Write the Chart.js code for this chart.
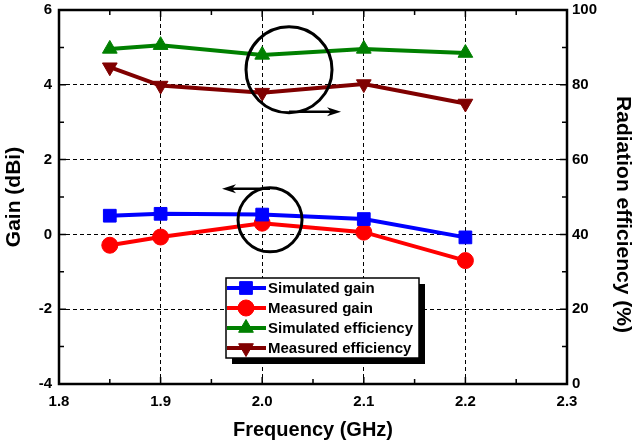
<!DOCTYPE html>
<html lang="en">
<head>
<meta charset="UTF-8">
<title>Gain and radiation efficiency</title>
<script src="https://cdn.jsdelivr.net/npm/chart.js"></script>
<style>
    html, body { margin: 0; padding: 0; background: #fff; }
    #wrap { width: 633px; height: 447px; }
</style>
</head>
<body>
<div id="wrap"><canvas id="chart" width="633" height="447"></canvas></div>
<script>
    // data
    const freqs = [1.85, 1.9, 2.0, 2.1, 2.2];
    const simGain = [0.50, 0.55, 0.53, 0.41, -0.08];
    const measGain = [-0.29, -0.07, 0.30, 0.06, -0.70];
    const simEff = [89.6, 90.6, 88.0, 89.6, 88.5];
    const measEff = [84.7, 79.8, 77.9, 80.2, 75.0];
    const seriesNames = ['Simulated gain', 'Measured gain', 'Simulated efficiency', 'Measured efficiency'];

    const FONT = '"Liberation Sans", Arial, sans-serif';
    const tickFont = { family: FONT, size: 15, weight: 'bold' };
    const titleFont = { family: FONT, size: 20, weight: 'bold', lineHeight: 1 };
    const sideTitleFont = { family: FONT, size: 21, weight: 'bold', lineHeight: 1 };

    function pts(vals) {
        return freqs.map((f, i) => ({ x: f, y: vals[i] }));
    }

    function series(label, vals, axis, color, style, radius, rotation) {
        return {
            label: label,
            data: pts(vals),
            yAxisID: axis,
            borderColor: color,
            backgroundColor: color,
            borderWidth: 4,
            pointStyle: style,
            pointRadius: radius,
            pointRotation: rotation || 0,
            pointBorderWidth: 1,
            tension: 0
        };
    }

    // frame + inward tick marks on all four sides
    const framePlugin = {
        id: 'frame',
        afterDatasetsDraw(chart) {
            const { ctx, chartArea: a, scales } = chart;
            ctx.save();
            ctx.strokeStyle = '#000';
            ctx.lineWidth = 1.5;
            ctx.beginPath();
            scales.x.ticks.forEach(t => {
                const k = Math.round(t.value * 100);
                const len = k % 10 === 0 ? 7 : 5;
                const px = scales.x.getPixelForValue(t.value);
                ctx.moveTo(px, a.bottom); ctx.lineTo(px, a.bottom - len);
                ctx.moveTo(px, a.top); ctx.lineTo(px, a.top + len);
            });
            scales.y.ticks.forEach(t => {
                const len = Math.round(t.value) % 2 === 0 ? 7 : 5;
                const py = scales.y.getPixelForValue(t.value);
                ctx.moveTo(a.left, py); ctx.lineTo(a.left + len, py);
            });
            scales.y2.ticks.forEach(t => {
                const len = Math.round(t.value) % 20 === 0 ? 7 : 5;
                const py = scales.y2.getPixelForValue(t.value);
                ctx.moveTo(a.right, py); ctx.lineTo(a.right - len, py);
            });
            ctx.stroke();
            ctx.lineWidth = 2.5;
            ctx.strokeRect(a.left, a.top, a.right - a.left, a.bottom - a.top);
            ctx.restore();
        }
    };

    // the two circles with arrows pointing to their axis
    const notes = [
        { x: 2.0264, y: 4.40, r: 43, dir: 1, len: 52 },
        { x: 2.0077, y: 0.39, r: 32, dir: -1, len: 48 }
    ];

    const notePlugin = {
        id: 'notes',
        afterDatasetsDraw(chart) {
            const { ctx, scales } = chart;
            ctx.save();
            ctx.strokeStyle = '#000';
            ctx.fillStyle = '#000';
            notes.forEach(n => {
                const cx = scales.x.getPixelForValue(n.x);
                const cy = scales.y.getPixelForValue(n.y);
                ctx.lineWidth = 3;
                ctx.beginPath();
                ctx.arc(cx, cy, n.r, 0, Math.PI * 2);
                ctx.stroke();
                // arrow leaves from the bottom (right arrow) or top (left arrow)
                const ay = n.dir > 0 ? cy + n.r - 1 : cy - n.r + 1;
                const tip = cx + n.dir * n.len;
                ctx.lineWidth = 2.5;
                ctx.beginPath();
                ctx.moveTo(cx, ay);
                ctx.lineTo(tip - n.dir * 8, ay);
                ctx.stroke();
                ctx.beginPath();
                ctx.moveTo(tip, ay);
                ctx.lineTo(tip - n.dir * 14, ay - 4.5);
                ctx.lineTo(tip - n.dir * 10, ay);
                ctx.lineTo(tip - n.dir * 14, ay + 4.5);
                ctx.closePath();
                ctx.fill();
            });
            ctx.restore();
        }
    };

    const legendBox = { x: 226, y: 278, w: 193, h: 80, shadow: 6, row: 20 };

    const legendPlugin = {
        id: 'boxLegend',
        afterDraw(chart) {
            const { ctx } = chart;
            const b = legendBox;
            ctx.save();
            ctx.fillStyle = '#000';
            ctx.fillRect(b.x + b.shadow, b.y + b.shadow, b.w, b.h);
            ctx.fillStyle = '#fff';
            ctx.fillRect(b.x, b.y, b.w, b.h);
            ctx.strokeStyle = '#000';
            ctx.lineWidth = 1.5;
            ctx.strokeRect(b.x, b.y, b.w, b.h);
            chart.data.datasets.forEach((ds, i) => {
                const y = b.y + 10 + i * b.row;
                ctx.strokeStyle = ds.borderColor;
                ctx.fillStyle = ds.backgroundColor;
                ctx.lineWidth = 4;
                ctx.beginPath();
                ctx.moveTo(b.x + 1, y);
                ctx.lineTo(b.x + 40, y);
                ctx.stroke();
                ctx.lineWidth = 1;
                Chart.helpers.drawPoint(ctx, {
                    pointStyle: ds.pointStyle,
                    radius: ds.pointRadius,
                    rotation: ds.pointRotation,
                    borderWidth: 1
                }, b.x + 20, y);
                ctx.fillStyle = '#000';
                ctx.font = 'bold 15px ' + FONT;
                ctx.textBaseline = 'middle';
                ctx.fillText(ds.label, b.x + 42, y + 1);
            });
            ctx.restore();
        }
    };

    function xLabel(v) {
        const k = Math.round(v * 100);
        return k % 10 === 0 ? (k / 100).toFixed(1) : '';
    }

    function fitY(w) {
        return s => {
            s.width = w;
            s.paddingTop = 0;
            s.paddingBottom = 0;
        };
    }

    new Chart(document.getElementById('chart'), {
        type: 'line',
        data: {
            datasets: [
                series(seriesNames[0], simGain, 'y', '#0000ff', 'rect', 9),
                series(seriesNames[1], measGain, 'y', '#ff0000', 'circle', 8),
                series(seriesNames[2], simEff, 'y2', '#008000', 'triangle', 8.5),
                series(seriesNames[3], measEff, 'y2', '#800000', 'triangle', 8.5, 180)
            ]
        },
        options: {
            responsive: false,
            animation: false,
            layout: { padding: { top: 8.5 } },
            plugins: {
                legend: { display: false },
                tooltip: { enabled: false }
            },
            scales: {
                x: {
                    type: 'linear',
                    min: 1.8,
                    max: 2.3,
                    afterFit: s => { s.height = 63; },
                    ticks: {
                        stepSize: 0.05,
                        autoSkip: false,
                        maxRotation: 0,
                        padding: 9,
                        color: '#000',
                        font: tickFont,
                        callback: xLabel
                    },
                    grid: {
                        drawTicks: false,
                        lineWidth: 1,
                        color: c => {
                            const k = Math.round(c.tick.value * 100);
                            return (k % 10 === 0 && k > 180 && k < 230) ? '#000' : 'rgba(0,0,0,0)';
                        }
                    },
                    border: { display: false, dash: [4, 3] },
                    title: {
                        display: true,
                        text: 'Frequency (GHz)',
                        color: '#000',
                        font: titleFont,
                        padding: { top: 0, bottom: 7 }
                    }
                },
                y: {
                    position: 'left',
                    min: -4,
                    max: 6,
                    afterFit: fitY(59),
                    ticks: {
                        stepSize: 1,
                        padding: 7,
                        color: '#000',
                        font: tickFont,
                        callback: v => (Math.round(v) % 2 === 0 ? String(v) : '')
                    },
                    grid: {
                        drawTicks: false,
                        lineWidth: 1,
                        color: c => {
                            const v = Math.round(c.tick.value);
                            return (v % 2 === 0 && v > -4 && v < 6) ? '#000' : 'rgba(0,0,0,0)';
                        }
                    },
                    border: { display: false, dash: [4, 3] },
                    title: {
                        display: true,
                        text: 'Gain (dBi)',
                        color: '#000',
                        font: sideTitleFont,
                        padding: { top: 4, bottom: 0 }
                    }
                },
                y2: {
                    position: 'right',
                    min: 0,
                    max: 100,
                    afterFit: fitY(66),
                    ticks: {
                        stepSize: 10,
                        padding: 5,
                        color: '#000',
                        font: tickFont,
                        callback: v => (Math.round(v) % 20 === 0 ? String(v) : '')
                    },
                    grid: { display: false, drawTicks: false },
                    border: { display: false },
                    title: {
                        display: true,
                        // leading spaces push the title a little lower, as in the figure
                        text: '      Radiation efficiency (%)',
                        color: '#000',
                        font: sideTitleFont,
                        padding: { top: 0, bottom: 0 }
                    }
                }
            }
        },
        plugins: [framePlugin, notePlugin, legendPlugin]
    });
</script>
</body>
</html>
